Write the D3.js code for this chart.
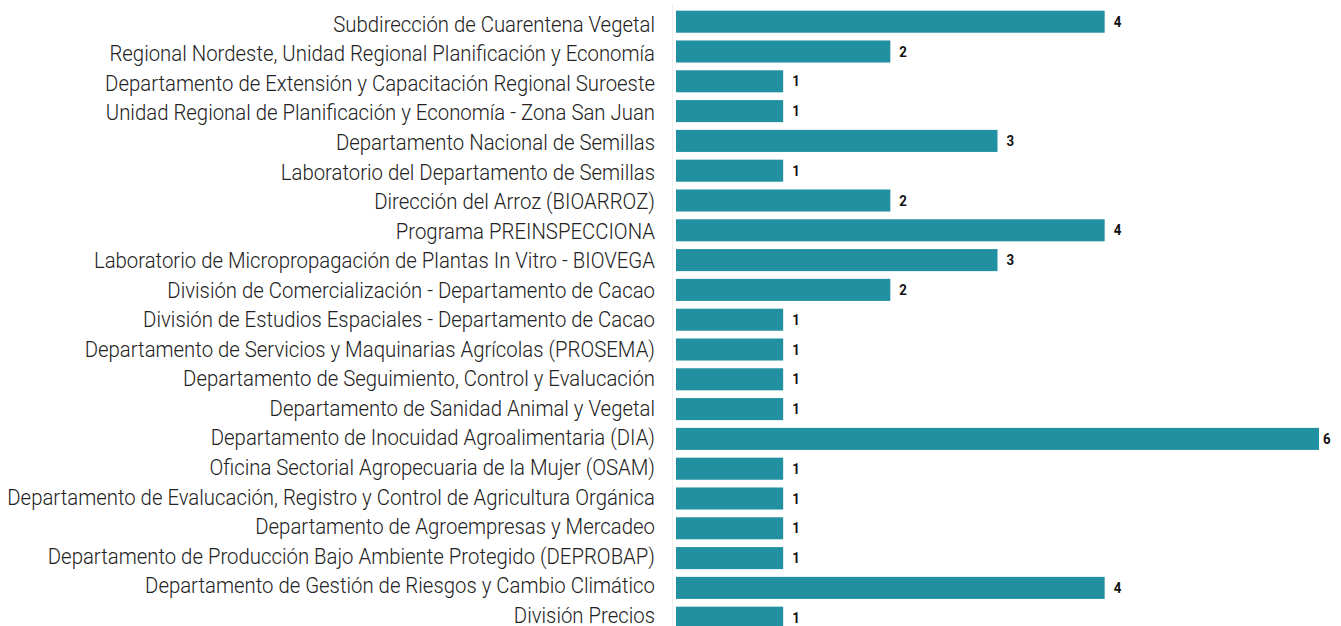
<!DOCTYPE html>
<html>
<head>
<meta charset="utf-8">
<script src="https://cdn.jsdelivr.net/npm/d3@7"></script>
<style>
  body { margin: 0; background: #fff; }
  svg { display: block; }
</style>
</head>
<body>
<div id="chart"></div>
<script>
const w = 1341;
const h = 626;

const labels = [
  "Subdirección de Cuarentena Vegetal",
  "Regional Nordeste, Unidad Regional Planificación y Economía",
  "Departamento de Extensión y Capacitación Regional Suroeste",
  "Unidad Regional de Planificación y Economía - Zona San Juan",
  "Departamento Nacional de Semillas",
  "Laboratorio del Departamento de Semillas",
  "Dirección del Arroz (BIOARROZ)",
  "Programa PREINSPECCIONA",
  "Laboratorio de Micropropagación de Plantas In Vitro - BIOVEGA",
  "División de Comercialización - Departamento de Cacao",
  "División de Estudios Espaciales - Departamento de Cacao",
  "Departamento de Servicios y Maquinarias Agrícolas (PROSEMA)",
  "Departamento de Seguimiento, Control y Evalucación",
  "Departamento de Sanidad Animal y Vegetal",
  "Departamento de Inocuidad Agroalimentaria (DIA)",
  "Oficina Sectorial Agropecuaria de la Mujer (OSAM)",
  "Departamento de Evalucación, Registro y Control de Agricultura Orgánica",
  "Departamento de Agroempresas y Mercadeo",
  "Departamento de Producción Bajo Ambiente Protegido (DEPROBAP)",
  "Departamento de Gestión de Riesgos y Cambio Climático",
  "División Precios"
];
const values = [4, 2, 1, 1, 3, 1, 2, 4, 3, 2, 1, 1, 1, 1, 6, 1, 1, 1, 1, 4, 1];

const barColor = "#2191a1";
const x0 = 676;

const svg = d3.select("#chart").append("svg").attr("width", w).attr("height", h);

const xScale = d3.scaleLinear().domain([0, 6]).range([x0, 1319]);
const yScale = d3.scaleBand().domain(labels).range([6.8, 632.6])
  .paddingInner(0.26).paddingOuter(0.13);
// label baselines sit on a slightly tighter grid than the bars
const labelY = d3.scalePoint().domain(labels).range([31.8, 622.8]);

// faint baseline
svg.append("line")
  .attr("x1", 672.5).attr("x2", 672.5)
  .attr("y1", 4).attr("y2", h)
  .attr("stroke", "#eeeeee").attr("stroke-width", 1);

svg.selectAll("rect.bar")
  .data(labels)
  .enter()
  .append("rect")
  .attr("class", "bar")
  .attr("x", xScale(0))
  .attr("y", d => yScale(d))
  .attr("width", (d, i) => xScale(values[i]) - xScale(0))
  .attr("height", yScale.bandwidth())
  .attr("fill", barColor);

// category labels, squeezed horizontally to mimic a condensed face
const labelG = svg.append("g").attr("transform", "translate(655,0) scale(0.925,1)");
labelG.selectAll("text")
  .data(labels)
  .enter()
  .append("text")
  .attr("x", 0)
  .attr("y", d => labelY(d))
  .attr("text-anchor", "end")
  .style("font-family", "Roboto, sans-serif")
  .style("font-weight", 300)
  .style("font-size", "22px")
  .style("fill", "#222")
  .text(d => d);

// value labels, kept inside the right edge
svg.selectAll("text.val")
  .data(labels)
  .enter()
  .append("text")
  .attr("class", "val")
  .attr("transform", (d, i) => "translate(" + Math.min(xScale(values[i]) + 9, w - 18) + "," + (yScale(d) + yScale.bandwidth() / 2) + ") scale(0.95,1)")
  .attr("dy", "0.36em")
  .style("font-family", "Roboto, sans-serif")
  .style("font-weight", 700)
  .style("font-size", "14px")
  .style("fill", "#111")
  .text((d, i) => values[i]);
</script>
</body>
</html>
